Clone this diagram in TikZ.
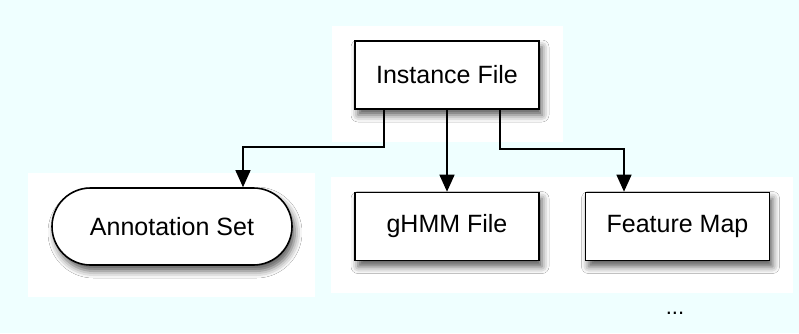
\documentclass[tikz,border=0pt]{standalone}
\usepackage{fontspec}
\setmainfont{Liberation Sans}
\usetikzlibrary{arrows.meta,shapes.misc,shadows.blur}
\definecolor{bgcyan}{RGB}{239,255,255}
\tikzset{
  panel/.style={fill=white,draw=none},
  filebox/.style={draw=black,line width=1.6pt,fill=white,
    minimum width=184pt,minimum height=68pt,inner sep=0pt,
    font=\fontsize{25}{30}\selectfont,
    blur shadow={shadow xshift=3pt,shadow yshift=-6pt,shadow blur radius=7pt,shadow opacity=65}},
  setbox/.style={filebox,rounded rectangle,minimum width=240pt,minimum height=77pt},
  link/.style={draw=black,line width=1.4pt,-{Triangle[width=15pt,length=17pt]}},
}
\begin{document}
\begin{tikzpicture}[x=1pt,y=-1pt]
  % canvas and panel backgrounds
  \fill[bgcyan] (0,0) rectangle (799,333);
  \useasboundingbox (0,0) rectangle (799,333);
  \fill[panel] (332,26) rectangle (563,142);
  \fill[panel] (28,173) rectangle (315,297);
  \fill[panel] (331,177) rectangle (793,293);

  % nodes
  \node[filebox] (inst) at (447,75) {Instance File};
  \node[setbox]  (ann)  at (172,226.5) {Annotation Set};
  \node[filebox] (ghmm) at (447,226.5) {gHMM File};
  \node[filebox] (feat) at (677.5,226.5) {Feature Map};
  \node[font=\fontsize{22}{26}\selectfont] (more) at (675,313) {...};

  % connectors
  \draw[link] (inst.south -| 384,0) |- (243,147) -- (ann.north -| 243,0);
  \draw[link] (inst.south) -- (ghmm.north);
  \draw[link] (inst.south -| 500,0) |- (624,149) -- (feat.north -| 624,0);
\end{tikzpicture}
\end{document}
